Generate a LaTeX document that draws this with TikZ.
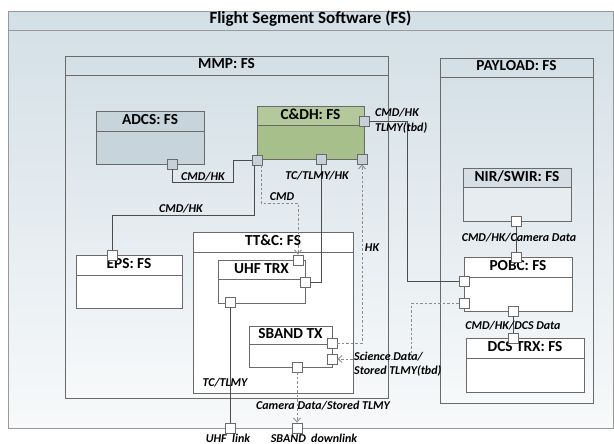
\documentclass[tikz,border=0pt]{standalone}
\usepackage{fontspec}
\setmainfont{Carlito}
\usetikzlibrary{arrows.meta}

\definecolor{framefill}{HTML}{D3DFE6}
\definecolor{framelow}{HTML}{F7F9FA}
\definecolor{linegray}{HTML}{6A6A6A}
\definecolor{adcsfill}{HTML}{C8D4DB}
\definecolor{cdhfill}{HTML}{A7BF8B}
\definecolor{cdhbar}{HTML}{B3C99B}
\definecolor{nirfill}{HTML}{E6ECEF}
\definecolor{nirbar}{HTML}{D4DEE4}
\definecolor{portgray}{HTML}{C5D0D7}

\tikzset{
  box/.style={inner sep=0pt, anchor=north west},
  boxline/.style={draw=linegray, line width=0.9pt},
  boxtitle/.style={font=\bfseries\fontsize{15.3}{15}\selectfont, inner sep=0pt, text height=0.644em, text depth=0pt},
  port/.style={draw=linegray, line width=0.8pt, minimum size=10pt, inner sep=0pt},
  wire/.style={draw=black!70, line width=0.85pt},
  dashwire/.style={draw=black!45, line width=0.9pt, dash pattern=on 2.5pt off 2pt},
  flow/.style={-{Straight Barb[length=4pt,width=7pt]}},
  lbl/.style={font=\bfseries\itshape\fontsize{12}{14.5}\selectfont, inner sep=1pt},
}

\begin{document}
\begin{tikzpicture}[x=1pt, y=-1pt]
  \useasboundingbox (0,0) rectangle (614,444);
  % frames
  \foreach \name/\title/\xa/\ya/\xb/\yb/\ys/\lc/\fs in {fs/{Flight Segment Software (FS)}/8/11/613/428/30/black!40/17,
      mmp/{MMP: FS}/65/56/388/398/75/linegray/15.3, payload/{PAYLOAD: FS}/440/58/593/403/77/linegray/15.3} {
    \node[box, top color=framefill, bottom color=framelow, minimum width={(\xb-\xa)*1pt},
      minimum height={(\yb-\ya)*1pt}] (\name) at (\xa,\ya) {};
    \draw[boxline, draw=\lc] (\xa,\ya) rectangle (\xb,\yb) (\xa,\ys) -- (\xb,\ys);
    \node[boxtitle, font=\bfseries\fontsize{\fs}{\fs}\selectfont] (\name-t) at ({(\xa+\xb)/2},{(\ya+\ys)/2}) {\title};
  }
  % components
  \foreach \name/\title/\xa/\ya/\xb/\yb/\ys/\col/\tcol in {
      adcs/{ADCS: FS}/96/111/204/164/131/adcsfill/adcsfill,
      cdh/{C\&DH: FS}/257/106/364/159/125/cdhfill/cdhbar,
      eps/{EPS: FS}/76/255/182/308/275/white/white,
      ttc/{TT\&C: FS}/193/232/353/393/252/white/white,
      uhf/{UHF TRX}/218/260/305/303/279/white/white,
      sband/{SBAND TX}/249/326/332/367/344/white/white,
      nir/{NIR/SWIR: FS}/463/168/571/221/187/nirfill/nirbar,
      pobc/{POBC: FS}/464/257/572/311/277/white/white,
      dcs/{DCS TRX: FS}/466/338/584/392/358/white/white} {
    \node[box, fill=\col, minimum width={(\xb-\xa)*1pt}, minimum height={(\yb-\ya)*1pt}] (\name) at (\xa,\ya) {};
    \fill[\tcol] (\xa,\ya) rectangle (\xb,\ys);
    \draw[boxline] (\xa,\ya) rectangle (\xb,\yb) (\xa,\ys) -- (\xb,\ys);
    \node[boxtitle] (\name-t) at ({(\xa+\xb)/2},{(\ya+\ys)/2+0.5}) {\title};
  }
  % ports
  \foreach \name/\x/\y/\col in {adcs-p/172/164/portgray, cdh-r/364/121/portgray, cdh-bl/257/160/portgray,
      cdh-bm/321/159/portgray, cdh-br/362/159/portgray, eps-p/112/255/white, uhf-t/298/260/white,
      uhf-r/305/282/white, uhf-b/230/302/white, sband-r1/332/343/white, sband-r2/332/359/white,
      sband-b/297/367/white, uhf-link/230/428/white, sband-link/297/428/white, nir-b/516/221/white,
      pobc-t/516/257/white, pobc-l1/464/281/white, pobc-l2/464/303/white, pobc-b/513/311/white,
      dcs-t/513/338/white} {
    \node[port, fill=\col] (\name) at (\x,\y) {};
  }
  % connectors
  \draw[wire] (adcs-p.south) |- (233,182) |- (cdh-bl.west);
  \draw[wire] ([xshift=-3pt]cdh-bl.south) -- ++(0,50) -| (eps-p.north);
  \draw[dashwire, flow] ([xshift=4pt]cdh-bl.south) -- ++(0,38) -| (uhf-t.north);
  \draw[wire] (cdh-bm.south) |- (uhf-r.east);
  \draw[dashwire, flow] (sband-r1.east) -| (cdh-br.south);
  \draw[wire] (cdh-r.east) -- ++(38,0) |- (pobc-l1.west);
  \draw[wire] (nir-b) -- (pobc-t);
  \draw[wire] (pobc-b) -- (dcs-t);
  \draw[dashwire, flow] (pobc-l2.west) -- ++(-47,0) |- (sband-r2.east);
  \draw[wire] (uhf-b.south) -- (uhf-link.north);
  \draw[dashwire, flow] (sband-b.south) -- (sband-link.north);
  % labels
  \foreach \name/\x/\y/\txt in {l-adcs/203/177/{CMD/HK}, l-eps/181/209/{CMD/HK}, l-cmd/282/197/CMD,
      l-uhf/317/176/{TC/TLMY/HK}, l-hk/372/248/HK, l-nir/519/238/{CMD/HK/Camera Data},
      l-dcs/513/326/{CMD/HK/DCS Data}, l-tc/225/383/{TC/TLMY}, l-cam/323/406/{Camera Data/Stored TLMY},
      l-uhflink/228/438/{UHF~ link}, l-sbandlink/314/438/{SBAND~ downlink}} {
    \node[lbl] (\name) at (\x,\y) {\txt};
  }
  \node[lbl, anchor=west, align=left] (l-pobc) at (374,121) {CMD/HK\\TLMY(tbd)};
  \node[lbl, anchor=west, align=left] (l-sci) at (353,364) {Science Data/\\Stored TLMY(tbd)};
\end{tikzpicture}
\end{document}
